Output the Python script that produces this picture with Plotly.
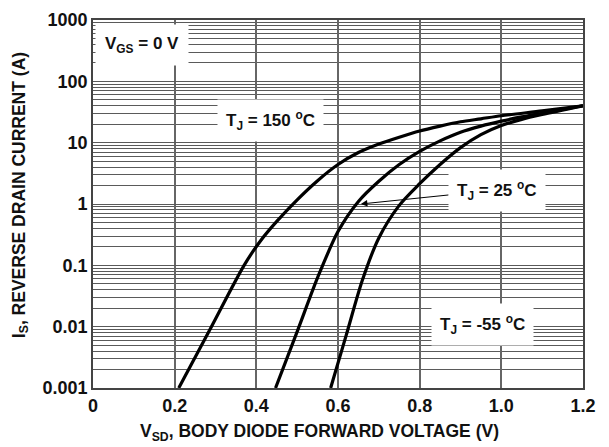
import plotly.graph_objects as go

# ---- data ----
x_150 = [0.21, 0.29, 0.37, 0.41, 0.45, 0.50, 0.55, 0.60, 0.65, 0.70, 0.75, 0.80, 0.85, 0.90, 0.95, 1.0, 1.1, 1.2]
y_150 = [0.001, 0.01, 0.1, 0.25, 0.52, 1.17, 2.4, 4.4, 6.9, 9.5, 12.3, 15.5, 18.6, 21.9, 24.5, 27.5, 33, 40]

x_25 = [0.447, 0.50, 0.55, 0.60, 0.65, 0.70, 0.75, 0.80, 0.85, 0.90, 0.95, 1.0, 1.05, 1.1, 1.2]
y_25 = [0.001, 0.0083, 0.063, 0.355, 1.1, 2.35, 4.4, 7.2, 10.7, 14.8, 18.6, 22.4, 26.3, 30.2, 40]

x_m55 = [0.582, 0.62, 0.66, 0.70, 0.75, 0.80, 0.85, 0.90, 0.95, 1.0, 1.05, 1.1, 1.2]
y_m55 = [0.001, 0.0072, 0.058, 0.28, 0.95, 2.14, 4.4, 8.3, 13.5, 19, 24, 28.8, 40]

x_ticks = [0, 0.2, 0.4, 0.6, 0.8, 1.0, 1.2]
x_tick_text = ["0", "0.2", "0.4", "0.6", "0.8", "1.0", "1.2"]
y_ticks = [0.001, 0.01, 0.1, 1, 10, 100, 1000]
y_tick_text = ["0.001", "0.01", "0.1", "1", "10", "100", "1000"]
y_minor = [m * d for d in [0.001, 0.01, 0.1, 1, 10, 100] for m in range(2, 10)]

FONT = "Liberation Sans, Arial, sans-serif"
GRID = "#5a5a5a"
INK = "#111"

fig = go.Figure()
for xs, ys in [(x_150, y_150), (x_25, y_25), (x_m55, y_m55)]:
    fig.add_trace(go.Scatter(x=xs, y=ys, mode="lines",
                             line=dict(color="black", width=3.2, shape="spline", smoothing=0.8),
                             showlegend=False, hoverinfo="skip"))

lbl_font = dict(family=FONT, size=17, color=INK, weight="bold")

# text labels (y in log10 units for a log axis)
fig.add_annotation(x=0.004, y=2.6, xref="x", yref="y", xanchor="left", yanchor="middle",
                   text="V<sub>GS</sub> = 0 V", showarrow=False, font=lbl_font,
                   bgcolor="white", borderpad=9)
fig.add_annotation(x=0.435, y=1.36, xref="x", yref="y", xanchor="center", yanchor="middle",
                   text="T<sub>J</sub> = 150 <sup>o</sup>C", showarrow=False, font=lbl_font,
                   bgcolor="white", borderpad=8)
fig.add_annotation(x=0.656, y=0.0, xref="x", yref="y", axref="pixel", ayref="pixel",
                   ax=136, ay=-14,
                   text="T<sub>J</sub> = 25 <sup>o</sup>C", showarrow=True, font=lbl_font,
                   bgcolor="white", borderpad=8,
                   arrowhead=2, arrowsize=1.3, arrowwidth=1, arrowcolor="black", standoff=0)
fig.add_annotation(x=0.955, y=-1.97, xref="x", yref="y", xanchor="center", yanchor="middle",
                   text="T<sub>J</sub> = -55 <sup>o</sup>C", showarrow=False, font=lbl_font,
                   bgcolor="white", borderpad=8)

# axis titles
title_font = dict(family=FONT, size=17.5, color=INK, weight="bold")
fig.add_annotation(x=0.463, y=-0.122, xref="paper", yref="paper", xanchor="center", yanchor="middle",
                   text="V<sub>SD</sub>, BODY DIODE FORWARD VOLTAGE (V)", showarrow=False,
                   font=title_font)
fig.add_annotation(x=-0.149, y=0.524, xref="paper", yref="paper", xanchor="center", yanchor="middle",
                   text="I<sub>S</sub>, REVERSE DRAIN CURRENT (A)", showarrow=False,
                   font=title_font, textangle=-90)

fig.update_xaxes(range=[0, 1.2], tickvals=x_ticks, ticktext=x_tick_text,
                 showgrid=True, gridcolor="#666", gridwidth=1.8,
                 showline=True, linecolor="#444", linewidth=1.8, mirror=True,
                 zeroline=False, ticks="", automargin=False,
                 tickfont=dict(family=FONT, size=18, color=INK, weight="bold"))
fig.update_yaxes(type="log", range=[-3, 3], tickvals=y_ticks, ticktext=y_tick_text,
                 showgrid=True, gridcolor=GRID, gridwidth=1,
                 minor=dict(tickvals=y_minor, showgrid=True, gridcolor=GRID, gridwidth=1, ticks=""),
                 showline=True, linecolor="#444", linewidth=1.8, mirror=True,
                 zeroline=False, ticks="", automargin=False,
                 tickfont=dict(family=FONT, size=18, color=INK, weight="bold"))

# the page body adds an ~8px offset, so the figure is sized to fit inside the window
fig.update_layout(width=601, height=439, margin=dict(l=85, r=26, t=12, b=59),
                  plot_bgcolor="white", paper_bgcolor="white")

fig.write_html("out.html")
